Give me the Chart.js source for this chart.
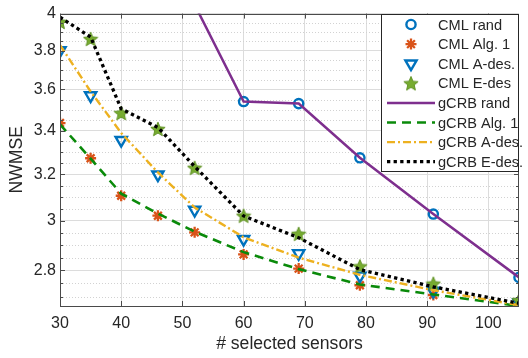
<!DOCTYPE html>
<html>
<head>
<meta charset="utf-8">
<script src="https://cdn.jsdelivr.net/npm/chart.js@4"></script>
<style>
  html, body { margin: 0; padding: 0; background: #fff; }
  canvas { display: block; }
</style>
</head>
<body>
<canvas id="chart" width="528" height="358"></canvas>
<script>
// number of selected sensors (x) and NWMSE values
const sensors = [30, 35, 40, 46, 52, 60, 69, 79, 91, 105];

const cmlRand  = [null, null, null, null, null, 3.54, 3.53, 3.274, 3.028, 2.773];
const cmlAlg1  = [3.436, 3.272, 3.106, 3.021, 2.952, 2.863, 2.807, 2.743, 2.706, 2.665];
const cmlAdes  = [3.80, 3.57, 3.355, 3.198, 3.045, 2.924, 2.867, 2.779, 2.721, 2.677];
const cmlEdes  = [3.954, 3.862, 3.484, 3.408, 3.229, 3.021, 2.946, 2.816, 2.749, 2.687];
const gcrbRand = [null, null, null, null, 4.05, 3.54, 3.53, 3.274, 3.028, 2.773];
const gcrbAlg1 = [3.43, 3.27, 3.115, 3.03, 2.955, 2.872, 2.805, 2.746, 2.708, 2.665];
const gcrbAdes = [3.829, 3.59, 3.389, 3.208, 3.056, 2.932, 2.85, 2.783, 2.724, 2.668];
const gcrbEdes = [3.98, 3.872, 3.505, 3.415, 3.235, 3.02, 2.93, 2.803, 2.737, 2.675];

const xTicks = [30, 40, 50, 60, 70, 80, 90, 100];
const yTicks = [2.8, 3, 3.2, 3.4, 3.6, 3.8, 4];
const yMinorTicks = [2.7, 2.75, 2.85, 2.9, 2.95, 3.05, 3.1, 3.15, 3.25, 3.3, 3.35,
                     3.45, 3.5, 3.55, 3.65, 3.7, 3.75, 3.85, 3.9, 3.95];

const FONT = "'Liberation Sans', Arial, Helvetica, sans-serif";
const TEXT = '#262626';

function pts(arr) {
  return sensors.map((x, i) => ({ x: x, y: arr[i] }));
}

// filled five-pointed star for the E-des markers (no built-in pentagram)
function makeStar(size, color) {
  const c = document.createElement('canvas');
  c.width = size; c.height = size;
  const g = c.getContext('2d');
  const cx = size / 2, cy = size / 2 + 0.7, ro = size / 2 - 0.5, ri = ro * 0.45;
  g.beginPath();
  for (let k = 0; k < 10; k++) {
    const r = k % 2 ? ri : ro;
    const a = -Math.PI / 2 + k * Math.PI / 5;
    g.lineTo(cx + r * Math.cos(a), cy + r * Math.sin(a));
  }
  g.closePath();
  g.fillStyle = color;
  g.fill();
  g.strokeStyle = '#5f9124';
  g.lineWidth = 1;
  g.stroke();
  return c;
}
const starImg = makeStar(16, '#77AC30');

const markerSet = (label, arr, color, style, radius, width, order, extra) => Object.assign({
  label: label,
  data: pts(arr),
  showLine: false,
  borderColor: color,
  backgroundColor: 'rgba(0,0,0,0)',
  pointStyle: style,
  pointRadius: radius,
  pointBorderWidth: width,
  order: order
}, extra || {});

const lineSet = (label, arr, color, width, dash, order) => ({
  label: label,
  data: pts(arr),
  borderColor: color,
  backgroundColor: color,
  borderWidth: width,
  borderDash: dash,
  pointRadius: 0,
  tension: 0,
  order: order
});

const datasets = [
  markerSet('CML rand', cmlRand, '#0072BD', 'circle', 4.6, 2.4, 7),
  markerSet('CML Alg. 1', cmlAlg1, '#D95319', 'star', 5.5, 2.3, 6),
  markerSet('CML A-des.', cmlAdes, '#0072BD', 'triangle', 6.5, 2.4, 5, { pointRotation: 180 }),
  markerSet('CML E-des', cmlEdes, '#77AC30', starImg, 8, 1, 4),
  lineSet('gCRB rand', gcrbRand, '#7E2F8E', 2.5, [], 3),
  lineSet('gCRB Alg. 1', gcrbAlg1, '#0A8A0A', 2.6, [9, 6], 2),
  lineSet('gCRB A-des.', gcrbAdes, '#EDB120', 2.4, [8, 3, 2, 3], 1),
  lineSet('gCRB E-des.', gcrbEdes, '#000000', 3.3, [3.3, 3.3], 0)
];

function drawMarker(ctx, ds, x, y) {
  const r = ds.pointRadius;
  ctx.save();
  ctx.strokeStyle = ds.borderColor;
  ctx.lineWidth = ds.pointBorderWidth;
  ctx.beginPath();
  if (ds.pointStyle === 'circle') {
    ctx.arc(x, y, r, 0, Math.PI * 2);
    ctx.stroke();
  } else if (ds.pointStyle === 'star') {
    for (let k = 0; k < 4; k++) {
      const a = k * Math.PI / 4;
      ctx.moveTo(x - Math.cos(a) * r, y - Math.sin(a) * r);
      ctx.lineTo(x + Math.cos(a) * r, y + Math.sin(a) * r);
    }
    ctx.stroke();
  } else if (ds.pointStyle === 'triangle') {
    let a = (ds.pointRotation || 0) * Math.PI / 180;
    for (let k = 0; k < 3; k++) {
      ctx.lineTo(x + Math.sin(a) * r, y - Math.cos(a) * r);
      a += 2 * Math.PI / 3;
    }
    ctx.closePath();
    ctx.stroke();
  } else {
    const img = ds.pointStyle;
    ctx.drawImage(img, x - img.width / 2, y - img.height / 2);
  }
  ctx.restore();
}

const axesBox = {
  id: 'axesBox',
  beforeDatasetsDraw(chart) {
    const { ctx, chartArea: a, scales } = chart;
    ctx.save();
    ctx.strokeStyle = '#d2d2d2';
    ctx.lineWidth = 1;
    ctx.setLineDash([1, 2]);
    yMinorTicks.forEach(v => {
      const py = Math.round(scales.y.getPixelForValue(v)) + 0.5;
      ctx.beginPath();
      ctx.moveTo(a.left, py);
      ctx.lineTo(a.right, py);
      ctx.stroke();
    });
    ctx.restore();
  },
  afterDatasetsDraw(chart) {
    const { ctx, chartArea: a, scales } = chart;
    ctx.save();
    ctx.strokeStyle = '#4a4a4a';
    ctx.lineWidth = 1;
    ctx.beginPath();
    xTicks.forEach(v => {
      const px = Math.round(scales.x.getPixelForValue(v)) + 0.5;
      ctx.moveTo(px, a.bottom); ctx.lineTo(px, a.bottom - 5);
      ctx.moveTo(px, a.top); ctx.lineTo(px, a.top + 5);
    });
    yTicks.forEach(v => {
      const py = Math.round(scales.y.getPixelForValue(v)) + 0.5;
      ctx.moveTo(a.left, py); ctx.lineTo(a.left + 5, py);
      ctx.moveTo(a.right, py); ctx.lineTo(a.right - 5, py);
    });
    yMinorTicks.forEach(v => {
      const py = Math.round(scales.y.getPixelForValue(v)) + 0.5;
      ctx.moveTo(a.left, py); ctx.lineTo(a.left + 3, py);
      ctx.moveTo(a.right, py); ctx.lineTo(a.right - 3, py);
    });
    ctx.stroke();
    ctx.strokeRect(Math.round(a.left) + 0.5, Math.round(a.top) + 0.5,
                   Math.round(a.right - a.left) - 1, Math.round(a.bottom - a.top));
    ctx.restore();
  },
  afterDraw(chart) {
    // legend box in the upper right corner of the axes
    const { ctx, chartArea: a } = chart;
    const x0 = 381.5, y0 = Math.round(a.top) + 0.5, x1 = Math.round(a.right) - 0.5, y1 = 171.5;
    ctx.save();
    ctx.fillStyle = '#fff';
    ctx.fillRect(x0, y0, x1 - x0, y1 - y0);
    ctx.strokeStyle = '#262626';
    ctx.lineWidth = 1;
    ctx.strokeRect(x0, y0, x1 - x0, y1 - y0);
    ctx.font = '14.6px ' + FONT;
    ctx.fillStyle = TEXT;
    ctx.textBaseline = 'middle';
    chart.data.datasets.forEach((ds, i) => {
      const ry = 24.5 + i * 19.6;
      if (ds.showLine === false) {
        drawMarker(ctx, ds, 411, ry);
      } else {
        ctx.save();
        ctx.strokeStyle = ds.borderColor;
        ctx.lineWidth = ds.borderWidth;
        ctx.setLineDash(ds.borderDash);
        ctx.beginPath();
        ctx.moveTo(387, ry);
        ctx.lineTo(435, ry);
        ctx.stroke();
        ctx.restore();
      }
      ctx.fillText(ds.label, 438, ry + 1);
    });
    ctx.restore();
  }
};

new Chart(document.getElementById('chart'), {
  type: 'line',
  data: { datasets: datasets },
  options: {
    responsive: false,
    animation: false,
    layout: { padding: { top: 12, right: 1, left: 0, bottom: 0 } },
    plugins: {
      legend: { display: false },
      tooltip: { enabled: false }
    },
    scales: {
      x: {
        type: 'linear',
        min: 30,
        max: 105,
        afterBuildTicks: s => { s.ticks = xTicks.map(v => ({ value: v })); },
        afterFit: s => { s.height = 52; },
        grid: { color: '#dcdcdc', drawTicks: false },
        border: { display: false },
        ticks: {
          padding: 8,
          color: TEXT,
          font: { family: FONT, size: 16 },
          callback: v => String(v)
        },
        title: {
          display: true,
          text: '# selected sensors',
          color: TEXT,
          font: { family: FONT, size: 17.6 },
          padding: { top: 0, bottom: 3 }
        }
      },
      y: {
        type: 'logarithmic',
        min: 2.665,
        max: 4,
        afterBuildTicks: s => { s.ticks = yTicks.map(v => ({ value: v })); },
        afterFit: s => { s.width = 60; },
        grid: { color: '#dcdcdc', drawTicks: false },
        border: { display: false },
        ticks: {
          padding: 4,
          color: TEXT,
          font: { family: FONT, size: 16 },
          callback: v => String(+v.toFixed(2))
        },
        title: {
          display: true,
          text: 'NWMSE',
          color: TEXT,
          font: { family: FONT, size: 17.6 },
          padding: { top: 7, bottom: 0 }
        }
      }
    }
  },
  plugins: [axesBox]
});
</script>
</body>
</html>
